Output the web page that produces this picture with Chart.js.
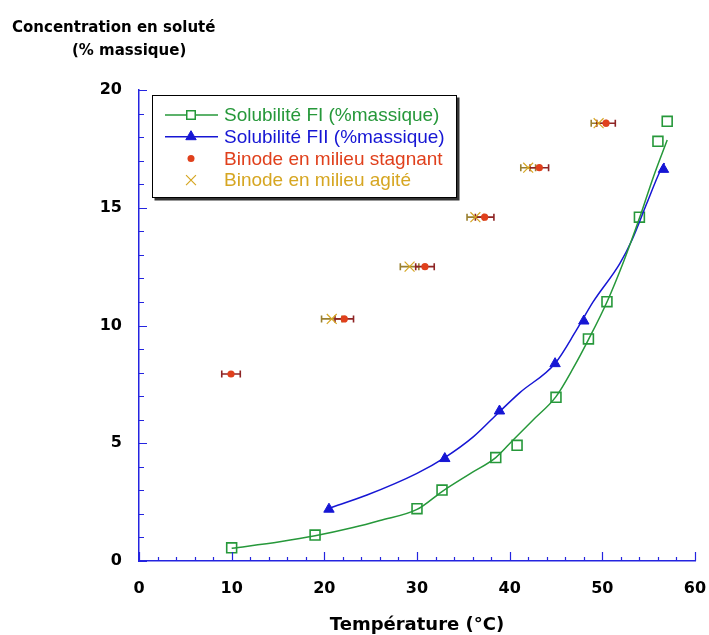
<!DOCTYPE html>
<html>
<head>
<meta charset="utf-8">
<script src="https://cdn.jsdelivr.net/npm/chart.js@4"></script>
<style>
  html, body { margin: 0; padding: 0; background: #fff; }
  #wrap { width: 709px; height: 635px; }
</style>
</head>
<body>
<div id="wrap"><canvas id="chart" width="709" height="635"></canvas></div>
<script>
// Solubilité FI / FII and binode points

// FI (squares) and its trend curve
const fiT = [10.0, 19.0, 30.0, 32.7, 38.5, 40.8, 45.0, 48.5, 50.5, 54.0, 56.0, 57.0];
const fiC = [0.56, 1.10, 2.22, 3.01, 4.39, 4.91, 6.95, 9.43, 11.01, 14.60, 17.82, 18.67];
const fiCurveT = [10.0, 15.2, 19.0, 23.1, 26.0, 30.0, 32.7, 35.7, 38.5, 40.4, 42.5, 45.0, 46.9, 48.5, 50.5, 52.3, 54.0, 55.5, 57.0];
const fiCurveC = [0.54, 0.82, 1.07, 1.42, 1.72, 2.19, 2.95, 3.70, 4.39, 5.15, 5.98, 6.98, 8.22, 9.40, 11.0, 12.72, 14.55, 16.3, 17.88];

// FII (triangles) and its trend curve
const fiiT = [20.5, 33.0, 38.9, 44.9, 48.0, 56.6];
const fiiC = [2.20, 4.35, 6.37, 8.38, 10.19, 16.63];
const fiiCurveT = [20.5, 24.6, 30.0, 33.0, 36.1, 38.9, 41.1, 44.9, 47.2, 49.0, 51.9, 53.2, 54.8, 56.2, 56.7];
const fiiCurveC = [2.24, 2.80, 3.72, 4.39, 5.28, 6.34, 7.15, 8.39, 9.80, 11.0, 12.64, 13.63, 15.19, 16.53, 16.9];

// binode, stagnant (dots) and agité (crosses), with horizontal error (°C)
const stagT = [9.93, 22.15, 30.86, 37.3, 43.2, 50.4];
const stagC = [7.94, 10.28, 12.5, 14.6, 16.7, 18.59];
const stagErr = [1.0, 1.0, 1.0, 1.0, 1.0, 1.0];
const agitT = [20.8, 29.2, 36.3, 42.0, 49.6];
const agitC = [10.28, 12.5, 14.6, 16.7, 18.59];
const agitErr = [1.1, 1.0, 0.9, 0.8, 0.8];

const xTicks = [0, 10, 20, 30, 40, 50, 60];
const yTicks = [0, 5, 10, 15, 20];

const GREEN = '#26983a', BLUE = '#1616d4', RED = '#e0401c', GOLD = '#d6a622';
const AXIS = '#2424e0';

const pts = (xs, ys) => xs.map((x, i) => ({ x: x, y: ys[i] }));

const legendItems = [
    { text: 'Solubilité FI (%massique)', color: GREEN, line: true,
      point: { pointStyle: 'rect', radius: 6, borderWidth: 1.5, borderColor: GREEN, backgroundColor: '#fff' } },
    { text: 'Solubilité FII (%massique)', color: BLUE, line: true,
      point: { pointStyle: 'triangle', radius: 6, borderWidth: 1, borderColor: BLUE, backgroundColor: BLUE } },
    { text: 'Binode en milieu stagnant', color: RED, line: false,
      point: { pointStyle: 'circle', radius: 3.5, borderWidth: 0, borderColor: RED, backgroundColor: RED } },
    { text: 'Binode en milieu agité', color: GOLD, line: false,
      point: { pointStyle: 'crossRot', radius: 7, borderWidth: 1.2, borderColor: GOLD, backgroundColor: GOLD } }
];

function errBars(ctx, xs, ys, errs, color, sx, sy) {
    ctx.save();
    ctx.strokeStyle = color;
    ctx.lineWidth = 1.6;
    xs.forEach((x, i) => {
        const y = sy.getPixelForValue(ys[i]);
        const x0 = sx.getPixelForValue(x - errs[i]);
        const x1 = sx.getPixelForValue(x + errs[i]);
        ctx.beginPath();
        ctx.moveTo(x0, y); ctx.lineTo(x1, y);
        ctx.moveTo(x0, y - 3.5); ctx.lineTo(x0, y + 3.5);
        ctx.moveTo(x1, y - 3.5); ctx.lineTo(x1, y + 3.5);
        ctx.stroke();
    });
    ctx.restore();
}

const decorPlugin = {
    id: 'decor',
    beforeDatasetsDraw(chart) {
        const { ctx, scales: { x, y } } = chart;
        errBars(ctx, agitT, agitC, agitErr, '#9a8030', x, y);
        errBars(ctx, stagT, stagC, stagErr, '#8e2424', x, y);
    },
    afterDraw(chart) {
        const { ctx, chartArea, scales: { x, y } } = chart;
        ctx.save();

        // tick marks pointing into the plot
        ctx.strokeStyle = AXIS;
        ctx.lineWidth = 1.2;
        ctx.beginPath();
        for (let v = 0; v <= 60; v += 2) {
            const px = Math.round(x.getPixelForValue(v)) + 0.5;
            const len = v % 10 === 0 ? 9 : 4;
            ctx.moveTo(px, chartArea.bottom);
            ctx.lineTo(px, chartArea.bottom - len);
        }
        for (let v = 0; v <= 20; v += 1) {
            const py = Math.round(y.getPixelForValue(v)) + 0.5;
            const len = v % 5 === 0 ? 8 : 5;
            ctx.moveTo(chartArea.left, py);
            ctx.lineTo(chartArea.left + len, py);
        }
        ctx.stroke();

        // axis titles
        ctx.fillStyle = '#000';
        ctx.font = 'bold 15px "DejaVu Sans"';
        ctx.textAlign = 'left';
        ctx.textBaseline = 'alphabetic';
        ctx.fillText('Concentration en soluté', 12, 32);
        ctx.fillText('(% massique)', 72, 55);
        ctx.font = 'bold 18px "DejaVu Sans"';
        ctx.textAlign = 'center';
        ctx.fillText('Température (°C)', (chartArea.left + chartArea.right) / 2, 630);

        // legend box with drop shadow
        const bx = 152, by = 95, bw = 305, bh = 103;
        ctx.fillStyle = '#333';
        ctx.fillRect(bx + 2.5, by + 2.5, bw, bh);
        ctx.fillStyle = '#fff';
        ctx.fillRect(bx, by, bw, bh);
        ctx.strokeStyle = '#000';
        ctx.lineWidth = 1;
        ctx.strokeRect(bx + 0.5, by + 0.5, bw - 1, bh - 1);

        ctx.font = '19px "Liberation Sans"';
        ctx.textAlign = 'left';
        ctx.textBaseline = 'middle';
        legendItems.forEach((it, i) => {
            const ry = 115 + i * 21.7;
            if (it.line) {
                ctx.strokeStyle = it.color;
                ctx.lineWidth = 1.5;
                ctx.beginPath();
                ctx.moveTo(165, ry); ctx.lineTo(218, ry);
                ctx.stroke();
            }
            ctx.save();
            ctx.strokeStyle = it.point.borderColor;
            ctx.fillStyle = it.point.backgroundColor;
            ctx.lineWidth = it.point.borderWidth;
            Chart.helpers.drawPoint(ctx, { pointStyle: it.point.pointStyle, radius: it.point.radius, rotation: 0, borderWidth: it.point.borderWidth }, 191, ry);
            ctx.restore();
            ctx.fillStyle = it.color;
            ctx.fillText(it.text, 224, ry + 1);
        });
        ctx.restore();
    }
};

new Chart(document.getElementById('chart'), {
    type: 'scatter',
    data: {
        datasets: [
            { label: 'fit FI', data: pts(fiCurveT, fiCurveC), showLine: true, pointRadius: 0,
              borderColor: GREEN, borderWidth: 1.5, cubicInterpolationMode: 'monotone', fill: false },
            { label: 'fit FII', data: pts(fiiCurveT, fiiCurveC), showLine: true, pointRadius: 0,
              borderColor: BLUE, borderWidth: 1.5, cubicInterpolationMode: 'monotone', fill: false },
            { label: 'Solubilité FI (%massique)', data: pts(fiT, fiC), pointStyle: 'rect', pointRadius: 7,
              borderColor: GREEN, backgroundColor: 'rgba(0,0,0,0)', borderWidth: 1.6 },
            { label: 'Solubilité FII (%massique)', data: pts(fiiT, fiiC), pointStyle: 'triangle', pointRadius: 6,
              borderColor: BLUE, backgroundColor: BLUE, borderWidth: 1 },
            { label: 'Binode en milieu stagnant', data: pts(stagT, stagC), pointStyle: 'circle', pointRadius: 3.6,
              borderColor: RED, backgroundColor: RED, borderWidth: 0 },
            { label: 'Binode en milieu agité', data: pts(agitT, agitC), pointStyle: 'crossRot', pointRadius: 7,
              borderColor: GOLD, backgroundColor: GOLD, borderWidth: 1.2 }
        ]
    },
    options: {
        responsive: false,
        animation: false,
        events: [],
        layout: { padding: { top: 90, right: 14, left: 0, bottom: 0 } },
        plugins: { legend: { display: false }, tooltip: { enabled: false }, title: { display: false } },
        scales: {
            x: {
                type: 'linear', min: 0, max: 60,
                afterBuildTicks: s => { s.ticks = xTicks.map(v => ({ value: v })); },
                afterFit: s => { s.height = 74; s.paddingLeft = 0; s.paddingRight = 0; },
                grid: { display: false, drawTicks: false },
                border: { display: true, color: AXIS, width: 1.5 },
                ticks: { color: '#000', padding: 18, maxRotation: 0, font: { family: 'DejaVu Sans', weight: 'bold', size: 16 } }
            },
            y: {
                type: 'linear', min: 0, max: 20,
                afterBuildTicks: s => { s.ticks = yTicks.map(v => ({ value: v })); },
                afterFit: s => { s.width = 139; s.paddingTop = 0; s.paddingBottom = 0; },
                grid: { display: false, drawTicks: false },
                border: { display: true, color: AXIS, width: 1.5 },
                ticks: { color: '#000', padding: 17, font: { family: 'DejaVu Sans', weight: 'bold', size: 16 } }
            }
        }
    },
    plugins: [decorPlugin]
});
</script>
</body>
</html>
